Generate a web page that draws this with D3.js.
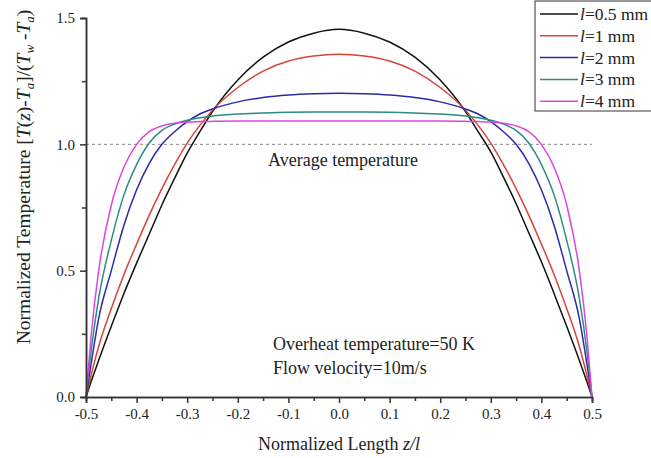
<!DOCTYPE html>
<html>
<head>
<meta charset="utf-8">
<script src="https://cdn.jsdelivr.net/npm/d3@7"></script>
<style>
  body { margin: 0; background: #fff; }
  svg { font-family: "Liberation Serif", "Times New Roman", serif; }
</style>
</head>
<body>
<div id="viz"></div>
<script>
// normalized length z/l
var zVals = [-0.5, -0.49, -0.475, -0.45, -0.425, -0.4, -0.375, -0.35, -0.325, -0.3, -0.275, -0.25, -0.2, -0.15, -0.1, -0.05, 0,
             0.05, 0.1, 0.15, 0.2, 0.25, 0.275, 0.3, 0.325, 0.35, 0.375, 0.4, 0.425, 0.45, 0.475, 0.49, 0.5];

// normalized temperature for each wire length
var temp05 = [0, 0.06, 0.145, 0.28, 0.41, 0.53, 0.645, 0.76, 0.865, 0.965, 1.05, 1.13, 1.255, 1.345, 1.405, 1.44, 1.455,
              1.44, 1.405, 1.345, 1.255, 1.13, 1.05, 0.97, 0.87, 0.765, 0.65, 0.535, 0.41, 0.28, 0.145, 0.06, 0];
var temp1 = [0, 0.085, 0.2, 0.35, 0.485, 0.605, 0.72, 0.825, 0.92, 1.005, 1.075, 1.135, 1.225, 1.29, 1.33, 1.35, 1.357,
             1.35, 1.33, 1.29, 1.225, 1.135, 1.075, 1.005, 0.92, 0.825, 0.72, 0.605, 0.485, 0.35, 0.2, 0.085, 0];
var temp2 = [0, 0.13, 0.31, 0.5, 0.68, 0.82, 0.925, 1.0, 1.05, 1.09, 1.12, 1.14, 1.168, 1.185, 1.195, 1.2, 1.202,
             1.2, 1.195, 1.185, 1.168, 1.14, 1.12, 1.09, 1.05, 1.0, 0.925, 0.82, 0.68, 0.5, 0.31, 0.13, 0];
var temp3 = [0, 0.18, 0.39, 0.62, 0.8, 0.92, 1.005, 1.055, 1.08, 1.095, 1.105, 1.112, 1.12, 1.124, 1.127, 1.128, 1.128,
             1.128, 1.127, 1.124, 1.12, 1.112, 1.105, 1.095, 1.08, 1.055, 1.005, 0.92, 0.8, 0.62, 0.39, 0.18, 0];
var temp4 = [0, 0.24, 0.5, 0.76, 0.91, 1.0, 1.05, 1.073, 1.083, 1.088, 1.09, 1.091, 1.092, 1.092, 1.092, 1.092, 1.092,
             1.092, 1.092, 1.092, 1.092, 1.091, 1.09, 1.088, 1.083, 1.073, 1.05, 1.0, 0.91, 0.76, 0.5, 0.24, 0];

var seriesLabels = ["0.5 mm", "1 mm", "2 mm", "3 mm", "4 mm"];
var seriesColors = ["#111111", "#d4453a", "#2b2ba8", "#2a8c82", "#e044e0"];
var seriesValues = [temp05, temp1, temp2, temp3, temp4];

var xTicks = [-0.5, -0.4, -0.3, -0.2, -0.1, 0, 0.1, 0.2, 0.3, 0.4, 0.5];
var yTicks = [0, 0.5, 1.0, 1.5];

var W = 651, H = 458;
var margin = {top: 18, right: 59, bottom: 61, left: 86};

var svg = d3.select("#viz").append("svg")
    .attr("width", W)
    .attr("height", H);

var x = d3.scaleLinear().domain([-0.5, 0.5]).range([margin.left, W - margin.right]);
var y = d3.scaleLinear().domain([0, 1.5]).range([H - margin.bottom, margin.top]);

// plain hyphen for negatives, like the original
function fmt(d) { return d3.format(".1f")(d).replace("\u2212", "-"); }

// average temperature reference line
svg.append("line")
    .attr("x1", x(-0.5)).attr("x2", x(0.5))
    .attr("y1", y(1.0)).attr("y2", y(1.0))
    .attr("stroke", "#888").attr("stroke-width", 1)
    .attr("stroke-dasharray", "3,3");

// curves
var line = d3.line()
    .x(function(d, i) { return x(zVals[i]); })
    .y(function(d) { return y(d); })
    .curve(d3.curveMonotoneX);

svg.selectAll(".curve")
    .data(seriesValues)
    .enter().append("path")
    .attr("class", "curve")
    .attr("fill", "none")
    .attr("stroke", function(d, i) { return seriesColors[i]; })
    .attr("stroke-width", 1.5)
    .attr("d", line);

// axes
var xAxis = d3.axisBottom(x).tickValues(xTicks).tickSize(6).tickPadding(5).tickFormat(fmt);
var xMinor = d3.axisBottom(x).tickValues(d3.range(-0.45, 0.5, 0.1)).tickSize(4).tickFormat("");
var yAxis = d3.axisLeft(y).tickValues(yTicks).tickSize(6).tickPadding(5).tickFormat(fmt);
var yMinor = d3.axisLeft(y).tickValues([0.25, 0.75, 1.25]).tickSize(4).tickFormat("");

function styleAxis(g) {
    g.selectAll("path, line").attr("stroke", "#333").attr("stroke-width", 1.5);
    g.selectAll("text").attr("font-family", "Liberation Serif").attr("font-size", 15).attr("fill", "#222");
}

svg.append("g").attr("transform", "translate(0," + y(0) + ")").call(xMinor).call(styleAxis);
svg.append("g").attr("transform", "translate(0," + y(0) + ")").call(xAxis).call(styleAxis);
svg.append("g").attr("transform", "translate(" + x(-0.5) + ",0)").call(yMinor).call(styleAxis);
svg.append("g").attr("transform", "translate(" + x(-0.5) + ",0)").call(yAxis).call(styleAxis);

// axis titles
var xt = svg.append("text")
    .attr("x", x(0)).attr("y", 450)
    .attr("text-anchor", "middle")
    .attr("font-size", 18).attr("fill", "#222");
xt.append("tspan").text("Normalized Length ");
xt.append("tspan").attr("font-style", "italic").text("z/l");

var yt = svg.append("text")
    .attr("transform", "translate(30," + 177 + ") rotate(-90)")
    .attr("text-anchor", "middle")
    .attr("font-size", 19.5).attr("fill", "#222");
yt.append("tspan").text("Normalized Temperature [");
yt.append("tspan").attr("font-style", "italic").text("T");
yt.append("tspan").text("(");
yt.append("tspan").attr("font-style", "italic").text("z");
yt.append("tspan").text(")-");
yt.append("tspan").attr("font-style", "italic").text("T");
yt.append("tspan").attr("font-style", "italic").attr("font-size", 13).attr("dy", 4).text("a");
yt.append("tspan").attr("dy", -4).text("]/(");
yt.append("tspan").attr("font-style", "italic").text("T");
yt.append("tspan").attr("font-style", "italic").attr("font-size", 13).attr("dy", 4).text("w");
yt.append("tspan").attr("dy", -4).text(" -");
yt.append("tspan").attr("font-style", "italic").text("T");
yt.append("tspan").attr("font-style", "italic").attr("font-size", 13).attr("dy", 4).text("a");
yt.append("tspan").attr("dy", -4).text(")");

// annotations
svg.append("text").attr("x", 268).attr("y", 166)
    .attr("font-size", 18).attr("fill", "#222").text("Average temperature");
svg.append("text").attr("x", 273).attr("y", 350)
    .attr("font-size", 18).attr("fill", "#222").text("Overheat temperature=50 K");
svg.append("text").attr("x", 273).attr("y", 374)
    .attr("font-size", 18).attr("fill", "#222").text("Flow velocity=10m/s");

// legend
var legend = svg.append("g").attr("transform", "translate(535,1)");
legend.append("rect")
    .attr("width", 125).attr("height", 110)
    .attr("fill", "#fff").attr("stroke", "#333").attr("stroke-width", 1);

var rows = legend.selectAll(".row")
    .data(seriesLabels)
    .enter().append("g")
    .attr("class", "row")
    .attr("transform", function(d, i) { return "translate(0," + (13 + i * 21.8) + ")"; });

rows.append("line")
    .attr("x1", 5).attr("x2", 43)
    .attr("stroke", function(d, i) { return seriesColors[i]; })
    .attr("stroke-width", 1.5);

var lt = rows.append("text")
    .attr("x", 45).attr("y", 6)
    .attr("font-size", 17.5).attr("fill", "#222");
lt.append("tspan").attr("font-style", "italic").text("l");
lt.append("tspan").text(function(d) { return "=" + d; });
</script>
</body>
</html>
